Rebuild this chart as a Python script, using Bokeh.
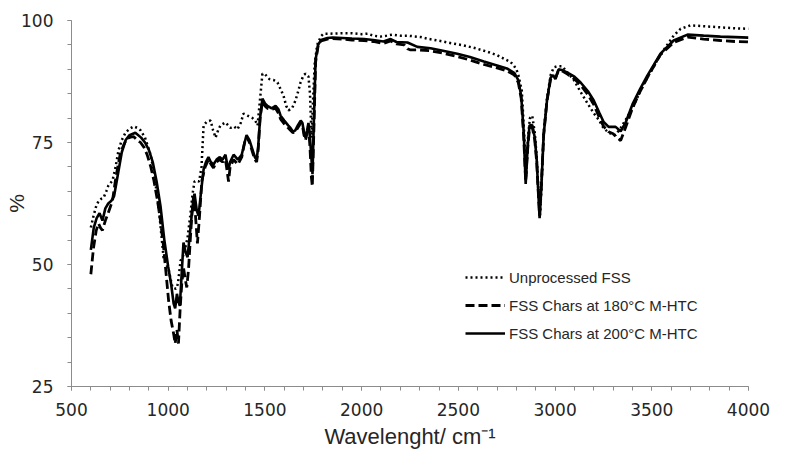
from bokeh.plotting import figure
from bokeh.models import Range1d, SingleIntervalTicker, Legend, LegendItem
from bokeh.embed import file_html
from bokeh.resources import INLINE

# Unprocessed FSS
w_raw = [600, 614, 628, 640, 655, 666, 680, 691, 712, 728, 743, 760, 779, 800, 822, 840, 857, 880, 909, 930, 955, 976, 1002, 1022, 1040, 1050, 1064, 1080, 1100, 1114, 1126, 1136, 1147, 1160, 1172, 1183, 1200, 1219, 1232, 1245, 1258, 1270, 1296, 1322, 1340, 1358, 1375, 1389, 1410, 1436, 1450, 1462, 1475, 1487, 1500, 1523, 1545, 1565, 1580, 1596, 1610, 1622, 1640, 1658, 1672, 1684, 1700, 1710, 1725, 1733, 1741, 1748, 1757, 1770, 1790, 1803, 1839, 1900, 1943, 2000, 2030, 2060, 2098, 2130, 2160, 2200, 2237, 2305, 2350, 2408, 2470, 2527, 2590, 2650, 2700, 2734, 2770, 2786, 2800, 2811, 2828, 2840, 2850, 2860, 2870, 2882, 2895, 2905, 2915, 2922, 2930, 2941, 2958, 2977, 2993, 3010, 3038, 3060, 3096, 3130, 3168, 3200, 3225, 3250, 3277, 3313, 3339, 3370, 3400, 3440, 3480, 3545, 3613, 3649, 3700, 3780, 3855, 3930, 4000]
v_raw = [57.6, 60, 62, 63, 63.5, 63.7, 65, 66.2, 67.2, 70, 73.4, 75.5, 77, 77.8, 78.3, 78, 77.5, 76, 72.5, 68, 60, 51.4, 49, 45.3, 45, 46, 50.8, 52, 55.5, 60, 64.5, 67, 67.2, 67, 70, 78.5, 79.3, 79.5, 77.5, 76, 77.5, 78.5, 79.1, 78, 78.3, 77.7, 79, 80.9, 80.5, 80, 79.5, 78.5, 84, 89.1, 89, 88, 87.8, 87.3, 86, 84.6, 82.5, 81.6, 82, 83.6, 85.5, 87.3, 88.8, 89.1, 88.5, 85, 76, 83, 91, 95, 96.8, 97.3, 97.3, 97.4, 97.4, 97.2, 97.3, 96.9, 96.7, 96.9, 97.1, 96.9, 96.9, 96.6, 96.2, 95.8, 95.3, 94.9, 94.3, 93.6, 92.9, 92.2, 91.5, 90.8, 90, 88.7, 85.6, 77, 68, 76, 80, 80.5, 77, 72, 64, 60, 66, 77, 84, 88.8, 90.4, 90.6, 90.6, 89.5, 87.9, 85.5, 83, 81, 79.7, 78, 77, 76.5, 78, 80, 82, 85.5, 88.5, 93, 96.9, 98.3, 99, 98.8, 98.6, 98.4, 98.3]

# FSS Chars at 180 C M-HTC
w_180 = [600, 614, 628, 640, 650, 660, 675, 690, 712, 730, 752, 770, 786, 805, 822, 840, 857, 875, 891, 910, 926, 945, 960, 975, 986, 1002, 1015, 1028, 1036, 1045, 1053, 1062, 1070, 1079, 1088, 1096, 1105, 1114, 1122, 1131, 1141, 1151, 1162, 1174, 1191, 1208, 1222, 1234, 1250, 1265, 1281, 1296, 1305, 1312, 1320, 1338, 1360, 1380, 1395, 1405, 1420, 1436, 1448, 1457, 1465, 1475, 1487, 1500, 1513, 1535, 1555, 1570, 1581, 1600, 1620, 1632, 1645, 1657, 1670, 1685, 1694, 1702, 1710, 1718, 1725, 1733, 1740, 1745, 1752, 1762, 1775, 1790, 1823, 1850, 1900, 1950, 2012, 2060, 2113, 2150, 2180, 2220, 2237, 2250, 2288, 2356, 2420, 2494, 2560, 2632, 2700, 2755, 2790, 2810, 2825, 2838, 2848, 2858, 2868, 2882, 2895, 2905, 2913, 2920, 2928, 2941, 2958, 2977, 2990, 3002, 3018, 3040, 3064, 3100, 3132, 3170, 3200, 3230, 3251, 3277, 3300, 3320, 3339, 3364, 3400, 3440, 3477, 3545, 3613, 3685, 3768, 3855, 3930, 4000]
v_180 = [48, 53.5, 57, 58.4, 57.5, 57, 59, 60.6, 63.1, 68, 72.7, 74.5, 75.8, 76.1, 76.2, 75.5, 75, 74, 72.5, 70, 67.2, 63, 59, 54, 49.4, 42.6, 38.5, 35.8, 33.8, 36.6, 33.8, 41.2, 46, 49.4, 47, 45.3, 49, 55, 60, 64, 60, 54.3, 60, 67.2, 70, 71.5, 70.5, 69.8, 71, 71.5, 71, 71.5, 69, 67, 70, 71.5, 70.5, 72, 75, 76.2, 75, 73, 71.5, 71, 73.5, 80, 83.5, 82.5, 82, 81.8, 82, 81, 79.8, 78.8, 78, 77.5, 77, 77.2, 78, 79, 78.5, 76.5, 75.5, 77, 78.5, 74, 68, 66, 76, 91.5, 94.8, 95.8, 96.2, 96.3, 96.2, 96, 95.9, 95.7, 95.3, 95.8, 95.2, 95, 94.2, 94, 94, 93.8, 93.3, 92.6, 91.9, 91, 90.3, 89.6, 88.8, 87.3, 84, 76, 67, 73.5, 78, 78.2, 75.5, 71, 65, 60, 65.5, 76.5, 83.5, 88, 88.5, 88.2, 89.8, 89.6, 89, 88, 86.8, 84.8, 82.8, 80, 78.3, 77.2, 76.8, 76, 75.4, 78, 82, 85.5, 88.3, 93, 95.5, 96.6, 96.2, 95.9, 95.7, 95.6]

# FSS Chars at 200 C M-HTC
w_200 = [600, 615, 630, 645, 660, 675, 690, 705, 720, 740, 760, 780, 800, 830, 860, 880, 900, 920, 940, 960, 980, 1000, 1015, 1028, 1036, 1045, 1052, 1060, 1068, 1079, 1090, 1100, 1114, 1126, 1136, 1148, 1157, 1170, 1183, 1195, 1208, 1220, 1234, 1250, 1265, 1281, 1296, 1305, 1312, 1320, 1338, 1360, 1380, 1395, 1405, 1420, 1436, 1448, 1457, 1465, 1475, 1487, 1500, 1513, 1535, 1555, 1570, 1581, 1600, 1620, 1632, 1645, 1657, 1670, 1685, 1694, 1702, 1710, 1718, 1725, 1733, 1740, 1746, 1752, 1762, 1775, 1790, 1823, 1850, 1900, 1950, 2012, 2060, 2113, 2150, 2180, 2237, 2288, 2356, 2420, 2494, 2560, 2632, 2700, 2755, 2790, 2810, 2825, 2838, 2848, 2858, 2868, 2882, 2895, 2905, 2913, 2920, 2928, 2941, 2958, 2977, 2990, 3002, 3018, 3040, 3064, 3100, 3132, 3170, 3200, 3230, 3251, 3277, 3313, 3339, 3364, 3400, 3440, 3477, 3545, 3613, 3685, 3768, 3855, 3930, 4000]
v_200 = [53, 57.5, 59.5, 60.5, 59, 61.5, 62.5, 63, 64, 68.5, 73, 75.5, 76.5, 77, 76, 75, 73.5, 71, 67, 62, 55, 49.5, 46, 42, 41, 44, 42.5, 41.5, 47, 54.5, 52.5, 51.5, 57, 62, 64.5, 61, 60, 65, 69.5, 71, 72, 71, 70.5, 71.5, 72, 71.5, 72.5, 70.5, 69.5, 71, 72.5, 71.5, 72.5, 75, 76.5, 75.5, 73.5, 72, 71.5, 74, 80, 84, 83, 82.5, 82, 82.5, 81.8, 80.5, 79.5, 78.5, 78, 77.2, 77.5, 78.5, 79.5, 79, 77, 76, 77.5, 79, 76, 72, 68.5, 78, 92, 95, 96, 96.4, 96.5, 96.4, 96.3, 96.2, 96, 95.7, 96.2, 95.6, 95.5, 94.6, 94.3, 93.8, 93.2, 92.5, 91.6, 90.8, 90.1, 89.2, 87.8, 84.5, 77, 66.5, 74, 78.5, 78.6, 76, 71.5, 65, 59.5, 65, 76.5, 83.5, 88.3, 88.8, 88, 90, 89.8, 89.3, 88.5, 87.3, 85.5, 83.6, 81, 79.2, 78.2, 78.2, 77.3, 79, 82.8, 86, 88.7, 93.2, 95.9, 97.1, 96.9, 96.7, 96.6, 96.5]

labels = ["Unprocessed FSS", "FSS Chars at 180\u00b0C M-HTC", "FSS Chars at 200\u00b0C M-HTC"]
x_ticks = [500, 1000, 1500, 2000, 2500, 3000, 3500, 4000]
y_ticks = [25, 50, 75, 100]

FONT = "Liberation Sans"
TICK_FONT = "DejaVu Sans"
AXIS_COL = "#8c8c8c"
TEXT_COL = "#262626"

p = figure(width=772, height=453, output_backend="svg", toolbar_location=None,
           x_range=Range1d(x_ticks[0], x_ticks[-1]), y_range=Range1d(y_ticks[0], y_ticks[-1]),
           min_border_left=71, min_border_right=24, min_border_top=20, min_border_bottom=67)
p.outline_line_color = None
p.xgrid.grid_line_color = None
p.ygrid.grid_line_color = None

r1 = p.line(w_raw, v_raw, line_color="black", line_width=2.5, line_dash="2 3")
r2 = p.line(w_180, v_180, line_color="black", line_width=2.8, line_dash="9 4")
r3 = p.line(w_200, v_200, line_color="black", line_width=2.6)

p.xaxis.ticker = SingleIntervalTicker(interval=500, num_minor_ticks=5)
p.yaxis.ticker = SingleIntervalTicker(interval=25, num_minor_ticks=5)
for ax in (p.xaxis[0], p.yaxis[0]):
    ax.axis_line_color = AXIS_COL
    ax.major_tick_line_color = AXIS_COL
    ax.minor_tick_line_color = AXIS_COL
    ax.major_tick_in = 0
    ax.major_tick_out = 4
    ax.minor_tick_in = 0
    ax.minor_tick_out = 4
    ax.major_label_text_font = TICK_FONT
    ax.major_label_text_font_size = "17px"
    ax.major_label_text_color = TEXT_COL
    ax.axis_label_text_font = FONT
    ax.axis_label_text_font_style = "normal"
    ax.axis_label_text_color = TEXT_COL

p.xaxis.axis_label = "Wavelenght/ cm\u207b\u00b9"
p.xaxis.axis_label_text_font_size = "22px"
p.xaxis.major_label_standoff = 12
p.xaxis.axis_label_standoff = 5
p.yaxis.axis_label = "%"
p.yaxis.axis_label_text_font_size = "21px"
p.yaxis.major_label_standoff = 14
p.yaxis.axis_label_standoff = -10

legend = Legend(items=[LegendItem(label=labels[0], renderers=[r1]),
                       LegendItem(label=labels[1], renderers=[r2]),
                       LegendItem(label=labels[2], renderers=[r3])],
                location=(394, 39), orientation="vertical",
                glyph_width=40, glyph_height=20, label_height=28, spacing=0,
                padding=0, margin=0, label_standoff=4,
                border_line_color=None, background_fill_alpha=0,
                label_text_font=FONT, label_text_font_size="15px", label_text_color=TEXT_COL)
p.add_layout(legend, "center")

open("out.html", "w").write(file_html(p, INLINE))
